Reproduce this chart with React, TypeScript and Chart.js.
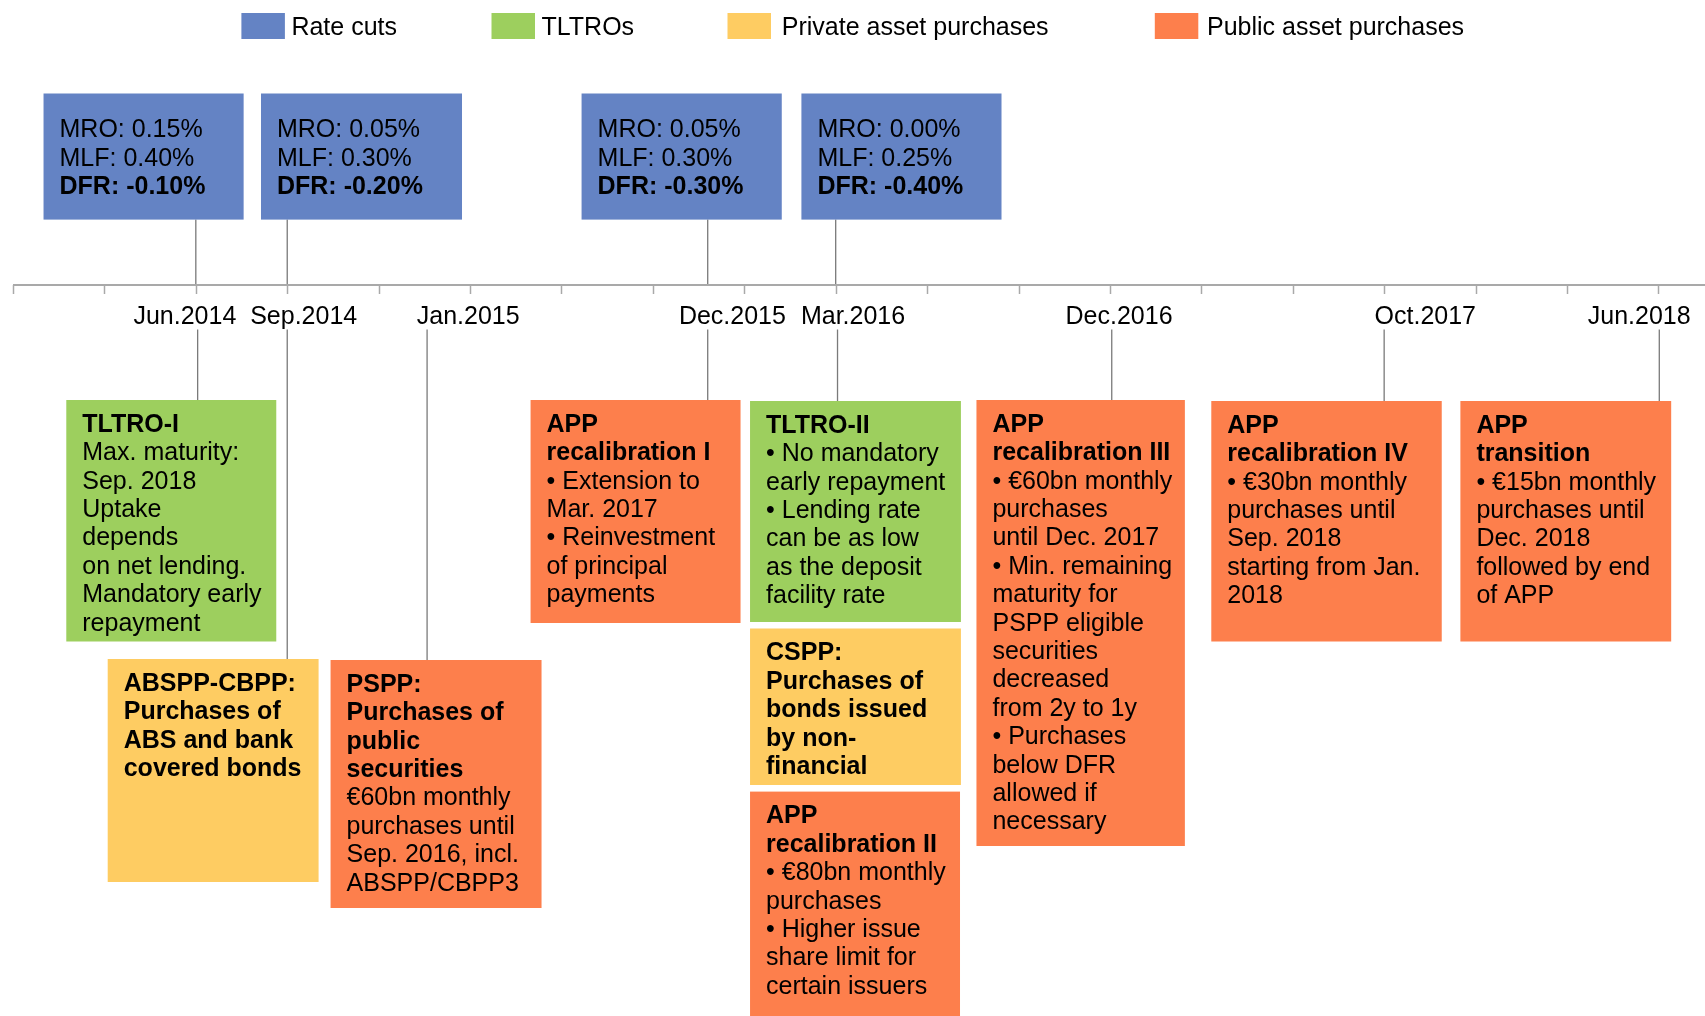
import { useEffect, useRef } from "react";
import { Chart, registerables } from "chart.js";

Chart.register(...registerables);

// ---------------- DATA ----------------
// quarterly timeline categories (axis tick marks)
const quarters = [
  "Dec.2013", "Mar.2014", "Jun.2014", "Sep.2014", "Dec.2014", "Mar.2015", "Jun.2015",
  "Sep.2015", "Dec.2015", "Mar.2016", "Jun.2016", "Sep.2016", "Dec.2016", "Mar.2017",
  "Jun.2017", "Sep.2017", "Dec.2017", "Mar.2018", "Jun.2018",
];

const seriesNames = ["Rate cuts", "TLTROs", "Private asset purchases", "Public asset purchases"];
const seriesColors = ["#6483C4", "#9DCF5E", "#FECC62", "#FD7F4C"];

// date labels shown under the axis and their position on the quarter scale
const dateLabels = ["Jun.2014", "Sep.2014", "Jan.2015", "Dec.2015", "Mar.2016", "Dec.2016", "Oct.2017", "Jun.2018"];
const dateLabelPos = [1.88, 3.18, 4.98, 7.87, 9.19, 12.1, 15.45, 17.79];

// rate cuts
const rateEventX = [2.0, 3.0, 7.6, 9.0];
const rateMRO = ["0.15%", "0.05%", "0.05%", "0.00%"];
const rateMLF = ["0.40%", "0.30%", "0.30%", "0.25%"];
const rateDFR = ["-0.10%", "-0.20%", "-0.30%", "-0.40%"];

// non-standard measures
const measureSeries = [1, 2, 3, 3, 1, 2, 3, 3, 3, 3];
const measureEventX: (number | null)[] = [2.02, 3.0, 4.53, 7.6, 9.02, null, null, 12.02, 15.0, 18.01];
const measureBoldLines = [
  ["TLTRO-I"],
  ["ABSPP-CBPP:", "Purchases of", "ABS and bank", "covered bonds"],
  ["PSPP:", "Purchases of", "public", "securities"],
  ["APP", "recalibration I"],
  ["TLTRO-II"],
  ["CSPP:", "Purchases of", "bonds issued", "by non-", "financial"],
  ["APP", "recalibration II"],
  ["APP", "recalibration III"],
  ["APP", "recalibration IV"],
  ["APP", "transition"],
];
const measureBodyLines = [
  ["Max. maturity:", "Sep. 2018", "Uptake", "depends", "on net lending.", "Mandatory early", "repayment"],
  [],
  ["€60bn monthly", "purchases until", "Sep. 2016, incl.", "ABSPP/CBPP3"],
  ["• Extension to", "Mar. 2017", "• Reinvestment", "of principal", "payments"],
  ["• No mandatory", "early repayment", "• Lending rate", "can be as low", "as the deposit", "facility rate"],
  [],
  ["• €80bn monthly", "purchases", "• Higher issue", "share limit for", "certain issuers"],
  ["• €60bn monthly", "purchases", "until Dec. 2017", "• Min. remaining", "maturity for", "PSPP eligible",
    "securities", "decreased", "from 2y to 1y", "• Purchases", "below DFR", "allowed if", "necessary"],
  ["• €30bn monthly", "purchases until", "Sep. 2018", "starting from Jan.", "2018"],
  ["• €15bn monthly", "purchases until", "Dec. 2018", "followed by end", "of APP"],
];

// ---------------- LAYOUT (kept separate from data) ----------------
const X_MAX = 18.51;
const AXIS_Y = 285;
const rateBoxX0 = [0.334, 2.713, 6.22, 8.625];
const rateBoxX1 = [2.523, 4.912, 8.41, 10.814];
const rateBoxTop = 93.5;
const rateBoxBottom = 219.6;
const measureBoxX0 = [0.583, 1.036, 3.474, 5.662, 8.063, 8.063, 8.063, 10.54, 13.109, 15.834];
const measureBoxX1 = [2.88, 3.343, 5.782, 7.959, 10.37, 10.37, 10.36, 12.82, 15.63, 18.14];
const measureBoxTop = [400, 659, 660, 400, 401, 628.5, 791.6, 400, 401, 401];
const measureBoxBottom = [641.5, 882, 908, 623, 622, 785, 1030, 846, 641.5, 641.5];
const legendSwatchX = [241.4, 491.5, 727.5, 1154.8];
const legendTextX = [291.4, 541.5, 781.8, 1207];
const CONNECTOR_BELOW_Y = 329.5;
const LINE_H = 28.4;
const FS = 25;
const FONT = '"Liberation Sans", Arial, Helvetica, sans-serif';

export default function App() {
  const ref = useRef<HTMLCanvasElement | null>(null);

  useEffect(() => {
    document.body.style.margin = "0";
    const canvas = ref.current;
    if (!canvas) return;

    const connectorColor = "#7A7A7A";
    const datasets: any[] = [];
    // axis line
    datasets.push({
      data: [{ x: 0, y: AXIS_Y }, { x: X_MAX, y: AXIS_Y }],
      showLine: true, borderColor: "#A9A9A9", borderWidth: 2, pointRadius: 0,
    });
    rateEventX.forEach((ex) => {
      datasets.push({
        data: [{ x: ex, y: rateBoxBottom }, { x: ex, y: AXIS_Y }],
        showLine: true, borderColor: connectorColor, borderWidth: 1.3, pointRadius: 0,
      });
    });
    measureEventX.forEach((ex, i) => {
      if (ex === null) return;
      datasets.push({
        data: [{ x: ex, y: CONNECTOR_BELOW_Y }, { x: ex, y: measureBoxTop[i] }],
        showLine: true, borderColor: connectorColor, borderWidth: 1.3, pointRadius: 0,
      });
    });

    const drawPlugin = {
      id: "timelineDecor",
      afterDatasetsDraw(chart: any) {
        const { ctx } = chart;
        const xs = chart.scales.x;
        const ys = chart.scales.y;
        const px = (v: number) => xs.getPixelForValue(v);
        const py = (v: number) => ys.getPixelForValue(v);
        ctx.save();

        // tick marks
        ctx.strokeStyle = "#A9A9A9";
        ctx.lineWidth = 1.5;
        quarters.forEach((_, i) => {
          const x = Math.round(px(i)) + 0.5;
          ctx.beginPath();
          ctx.moveTo(x, py(AXIS_Y));
          ctx.lineTo(x, py(AXIS_Y + 9));
          ctx.stroke();
        });

        // date labels
        ctx.fillStyle = "#000";
        ctx.font = `${FS}px ${FONT}`;
        ctx.textAlign = "center";
        ctx.textBaseline = "middle";
        dateLabels.forEach((t, i) => {
          ctx.fillText(t, px(dateLabelPos[i]), py(317));
        });

        // legend
        ctx.textAlign = "left";
        seriesNames.forEach((n, i) => {
          ctx.fillStyle = seriesColors[i];
          ctx.fillRect(legendSwatchX[i], 13, 43.5, 26);
          ctx.fillStyle = "#000";
          ctx.font = `${FS}px ${FONT}`;
          ctx.fillText(n, legendTextX[i], 28);
        });

        // rate boxes
        rateEventX.forEach((_, i) => {
          const x0 = px(rateBoxX0[i]);
          const x1 = px(rateBoxX1[i]);
          const y0 = py(rateBoxTop);
          const y1 = py(rateBoxBottom);
          ctx.fillStyle = seriesColors[0];
          ctx.fillRect(x0, y0, x1 - x0, y1 - y0);
          ctx.fillStyle = "#000";
          ctx.font = `${FS}px ${FONT}`;
          ctx.fillText(`MRO: ${rateMRO[i]}`, x0 + 16, y0 + 37);
          ctx.fillText(`MLF: ${rateMLF[i]}`, x0 + 16, y0 + 65.5);
          ctx.font = `bold ${FS}px ${FONT}`;
          ctx.fillText(`DFR: ${rateDFR[i]}`, x0 + 16, y0 + 94);
        });

        // measure boxes
        measureSeries.forEach((s, i) => {
          const x0 = px(measureBoxX0[i]);
          const x1 = px(measureBoxX1[i]);
          const y0 = py(measureBoxTop[i]);
          const y1 = py(measureBoxBottom[i]);
          ctx.fillStyle = seriesColors[s];
          ctx.fillRect(x0, y0, x1 - x0, y1 - y0);
          ctx.fillStyle = "#000";
          let y = y0 + 25;
          const maxW = x1 - x0 - 18;
          ctx.font = `bold ${FS}px ${FONT}`;
          measureBoldLines[i].forEach((t) => {
            ctx.fillText(t, x0 + 16, y, maxW);
            y += LINE_H;
          });
          ctx.font = `${FS}px ${FONT}`;
          measureBodyLines[i].forEach((t) => {
            ctx.fillText(t, x0 + 16, y, maxW);
            y += LINE_H;
          });
        });

        ctx.restore();
      },
    };

    const chart = new Chart(canvas, {
      type: "scatter",
      data: { datasets },
      options: {
        animation: false,
        responsive: false,
        maintainAspectRatio: false,
        layout: { padding: { left: 13, right: 0, top: 0, bottom: 0 } },
        scales: {
          x: { type: "linear", min: 0, max: X_MAX, display: false },
          y: { type: "linear", min: 0, max: 1016, reverse: true, display: false },
        },
        plugins: { legend: { display: false }, tooltip: { enabled: false } },
        events: [],
      },
      plugins: [drawPlugin],
    });
    return () => chart.destroy();
  }, []);

  return (
    <canvas ref={ref} width={1705} height={1016} style={{ display: "block", width: 1705, height: 1016 }} />
  );
}
